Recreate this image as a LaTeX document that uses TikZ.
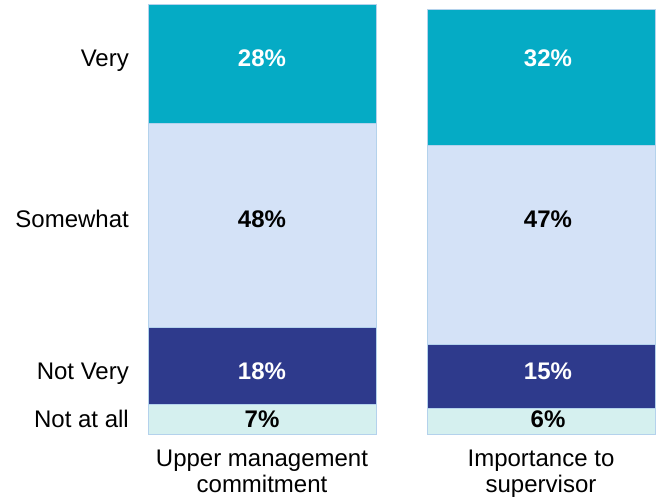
\documentclass[tikz,border=0pt]{standalone}
\usepackage{fontspec}
\setmainfont{Liberation Sans}
\definecolor{very}{HTML}{05ABC5}
\definecolor{somewhat}{HTML}{D4E2F7}
\definecolor{notvery}{HTML}{2E3A8C}
\definecolor{notatall}{HTML}{D5F0EF}
\definecolor{edge}{HTML}{B4D2EC}
\begin{document}
\begin{tikzpicture}[x=1pt, y=-1pt, font=\fontsize{24}{26}\selectfont,
		seg/.style={draw=edge, line width=0.6pt},
		pct/.style={font=\fontsize{24}{26}\selectfont\bfseries, anchor=base, inner sep=0pt},
		cat/.style={anchor=base east, inner sep=0pt}]
		\useasboundingbox (0,0) rectangle (660,500);
		% row labels
		\foreach \y/\lab [count=\i] in {67/Very, 227.5/Somewhat, 379/Not Very, 427.5/Not at all}{
		\node[cat] (row\i) at (129,\y) {\lab};
		}
		% upper management commitment
		\foreach \ya/\yb/\col/\val/\y [count=\i] in {
			4.75/123.75/very/28/67,
			123.75/327.75/somewhat/48/227.5,
			327.75/404.25/notvery/18/379,
			404.25/434/notatall/7/427.5
		}{
		\pgfmathsetmacro\tcol{mod(\i,2)==1 ? "white" : "black"}
		\filldraw[seg, fill=\col] (148,\ya) rectangle (376,\yb);
		\node[pct, text=\tcol] (upper\i) at (262,\y) {\val\%};
		}
		% importance to supervisor
		\foreach \ya/\yb/\col/\val/\y [count=\i] in {
			9/145/very/32/67,
			145/344.5/somewhat/47/227.5,
			344.5/408.5/notvery/15/379,
			408.5/434/notatall/6/427.5
		}{
		\pgfmathsetmacro\tcol{mod(\i,2)==1 ? "white" : "black"}
		\filldraw[seg, fill=\col] (427,\ya) rectangle (655,\yb);
		\node[pct, text=\tcol] (super\i) at (548,\y) {\val\%};
		}
		\node[anchor=north, align=center, inner sep=0pt] (colA) at (262,450) {Upper management\\commitment};
		\node[anchor=north, align=center, inner sep=0pt] (colB) at (541,450) {Importance to\\supervisor};
		\end{tikzpicture}
\end{document}
